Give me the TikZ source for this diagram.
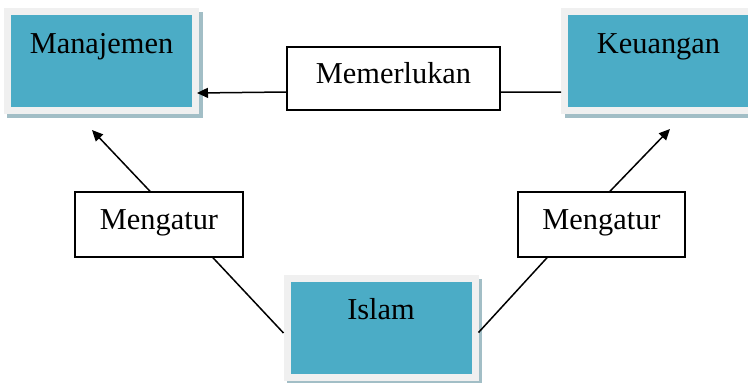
\documentclass[tikz,border=0pt]{standalone}
\usepackage{fontspec}
\setmainfont{Liberation Serif}
\usetikzlibrary{arrows.meta}
\definecolor{tealfill}{HTML}{4BACC6}
\definecolor{framegray}{HTML}{F0F0F0}
\definecolor{shadowcol}{HTML}{A2BEC6}
\tikzset{
  tealbox/.style={rectangle, fill=tealfill, draw=framegray, line width=7bp,
    minimum width=188bp, minimum height=99bp, inner sep=0pt,
    font=\fontsize{30.5}{35}\selectfont, text height=20bp, text depth=36bp,
    preaction={draw=shadowcol, fill=shadowcol, line width=7bp,
      transform canvas={xshift=3.5bp, yshift=-4bp}}},
  labelbox/.style={rectangle, fill=white, draw=black, line width=1.5bp,
    inner sep=0pt, font=\fontsize{30.5}{35}\selectfont,
    text height=20bp, text depth=11bp},
  link/.style={draw=black, line width=1.5bp},
  arrowlink/.style={link, -{Triangle[length=11bp,width=10bp]}}
}
\begin{document}
\begin{tikzpicture}[x=1bp, y=-1bp]
\useasboundingbox (0,0) rectangle (748,382);
\clip (0,0) rectangle (748,382);
\node[tealbox] (man) at (101.5,61) {Manajemen};
\node[tealbox] (keu) at (658.5,61) {Keuangan};
\node[tealbox] (isl) at (381,327.5) {Islam};
\node[labelbox, minimum width=213bp, minimum height=63bp] (mem) at (393.5,78.5) {Memerlukan};
\node[labelbox, minimum width=168bp, minimum height=65bp] (mgl) at (159,224.5) {Mengatur};
\node[labelbox, minimum width=167bp, minimum height=65bp] (mgr) at (601.5,224.5) {Mengatur};
\coordinate (tipl) at (92,130);
\coordinate (tipr) at (670,129);
\draw[link] ([yshift=-31bp]keu.west) -- ([yshift=-13.5bp]mem.east);
\draw[arrowlink] ([yshift=-13.5bp]mem.west) -- ([xshift=-2bp,yshift=-32bp]man.east);
\draw[link] ([yshift=-5.5bp]isl.west) -- ([xshift=54bp]mgl.south);
\draw[arrowlink] ([xshift=-9bp]mgl.north) -- (tipl);
\draw[link] ([yshift=-5bp]isl.east) -- ([xshift=-54.5bp]mgr.south);
\draw[arrowlink] ([xshift=8.5bp]mgr.north) -- (tipr);
\end{tikzpicture}
\end{document}
